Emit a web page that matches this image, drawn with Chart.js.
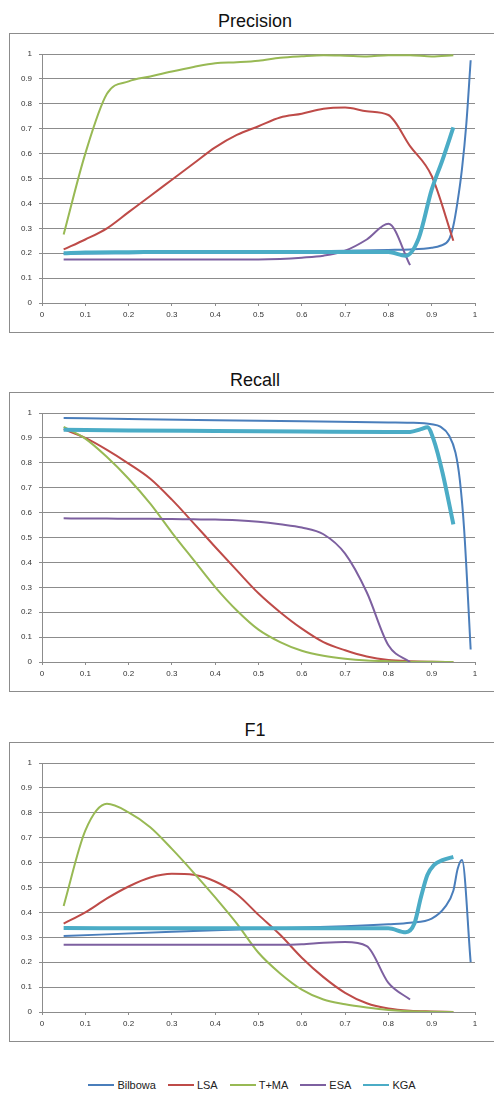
<!DOCTYPE html>
<html>
<head>
<meta charset="utf-8">
<script src="https://cdn.jsdelivr.net/npm/chart.js@4.4.1/dist/chart.umd.min.js"></script>
<style>
  body { margin: 0; width: 494px; height: 1093px; overflow: hidden; background: #fff; position: relative; font-family: "Liberation Sans", Arial, sans-serif; }
  .title { position: absolute; left: 0; width: 510px; text-align: center; font-size: 18px; line-height: 20px; color: #111; }
  .frame { position: absolute; left: 9px; width: 500px; height: 298px; border: 1px solid #8c8c8c; }
  canvas { position: absolute; left: 10px; }
  #legend { position: absolute; left: 0; top: 1079px; width: 504px; display: flex; justify-content: center; gap: 12px; font-size: 11px; line-height: 12px; color: #222; }
  #legend .item { display: flex; align-items: center; gap: 3px; }
  #legend .swatch { width: 26px; height: 2px; }
</style>
</head>
<body>
<div class="title" style="top:11px">Precision</div>
<div class="frame" style="top:33px"></div>
<canvas id="precisionChart" width="484" height="299" style="top:33px"></canvas>

<div class="title" style="top:370px">Recall</div>
<div class="frame" style="top:392px"></div>
<canvas id="recallChart" width="484" height="299" style="top:392px"></canvas>

<div class="title" style="top:720px">F1</div>
<div class="frame" style="top:742px"></div>
<canvas id="f1Chart" width="484" height="299" style="top:742px"></canvas>

<div id="legend"></div>

<script>
// series names and thresholds
const seriesNames = ["Bilbowa", "LSA", "T+MA", "ESA", "KGA"];
const thresholds = [0.05, 0.1, 0.15, 0.2, 0.25, 0.3, 0.35, 0.4, 0.45, 0.5, 0.55, 0.6, 0.65, 0.7, 0.75, 0.8, 0.85, 0.9, 0.95];
const esaX = [0.05, 0.1, 0.15, 0.2, 0.25, 0.3, 0.35, 0.4, 0.45, 0.5, 0.55, 0.6, 0.65, 0.7, 0.75, 0.8, 0.85];
const yTicks = [0, 0.1, 0.2, 0.3, 0.4, 0.5, 0.6, 0.7, 0.8, 0.9, 1];

// Precision
const bilbowaPrecisionX = [0.05, 0.1, 0.2, 0.3, 0.4, 0.5, 0.6, 0.7, 0.8, 0.85, 0.9, 0.92, 0.94, 0.95, 0.96, 0.97, 0.98, 0.99];
const bilbowaPrecision = [0.198, 0.199, 0.2, 0.201, 0.203, 0.205, 0.207, 0.21, 0.213, 0.215, 0.222, 0.23, 0.255, 0.31, 0.41, 0.54, 0.72, 0.975];
const lsaPrecision = [0.215, 0.255, 0.3, 0.365, 0.43, 0.495, 0.56, 0.625, 0.675, 0.71, 0.745, 0.76, 0.78, 0.785, 0.77, 0.755, 0.63, 0.51, 0.25];
const tmaPrecision = [0.275, 0.6, 0.84, 0.89, 0.91, 0.93, 0.948, 0.963, 0.967, 0.973, 0.985, 0.991, 0.995, 0.993, 0.99, 0.995, 0.995, 0.99, 0.995];
const esaPrecision = [0.175, 0.175, 0.175, 0.175, 0.175, 0.175, 0.175, 0.175, 0.175, 0.175, 0.177, 0.182, 0.19, 0.21, 0.255, 0.318, 0.152];
const kgaPrecisionX = [0.05, 0.1, 0.2, 0.3, 0.4, 0.5, 0.6, 0.7, 0.8, 0.84, 0.87, 0.9, 0.925, 0.95];
const kgaPrecision = [0.2, 0.203, 0.204, 0.205, 0.205, 0.205, 0.205, 0.205, 0.205, 0.19, 0.26, 0.455, 0.575, 0.705];

// Recall
const bilbowaRecallX = [0.05, 0.2, 0.4, 0.6, 0.8, 0.85, 0.9, 0.92, 0.94, 0.955, 0.965, 0.975, 0.99];
const bilbowaRecall = [0.98, 0.976, 0.971, 0.967, 0.962, 0.961, 0.955, 0.945, 0.91, 0.84, 0.73, 0.53, 0.05];
const lsaRecall = [0.935, 0.9, 0.852, 0.797, 0.736, 0.652, 0.558, 0.462, 0.368, 0.276, 0.2, 0.134, 0.08, 0.047, 0.022, 0.008, 0.003, 0.001, 0];
const tmaRecall = [0.944, 0.897, 0.823, 0.736, 0.636, 0.52, 0.41, 0.301, 0.207, 0.13, 0.08, 0.045, 0.025, 0.013, 0.006, 0.003, 0.001, 0.001, 0];
const esaRecall = [0.577, 0.576, 0.576, 0.575, 0.575, 0.574, 0.573, 0.572, 0.569, 0.563, 0.553, 0.54, 0.513, 0.435, 0.28, 0.067, 0];
const kgaRecallX = [0.05, 0.2, 0.4, 0.6, 0.8, 0.85, 0.875, 0.89, 0.905, 0.925, 0.95];
const kgaRecall = [0.933, 0.93, 0.928, 0.926, 0.924, 0.924, 0.935, 0.943, 0.89, 0.76, 0.553];

// F1
const bilbowaF1X = [0.05, 0.3, 0.5, 0.7, 0.8, 0.85, 0.9, 0.93, 0.95, 0.96, 0.97, 0.99];
const bilbowaF1 = [0.305, 0.322, 0.334, 0.344, 0.352, 0.358, 0.375, 0.42, 0.487, 0.575, 0.61, 0.2];
const lsaF1 = [0.355, 0.4, 0.456, 0.504, 0.54, 0.555, 0.551, 0.524, 0.473, 0.39, 0.31, 0.218, 0.14, 0.077, 0.035, 0.014, 0.005, 0.002, 0];
const tmaF1 = [0.426, 0.728, 0.836, 0.802, 0.742, 0.655, 0.56, 0.46, 0.355, 0.238, 0.155, 0.09, 0.05, 0.031, 0.018, 0.008, 0.003, 0.001, 0];
const esaF1 = [0.27, 0.27, 0.27, 0.27, 0.27, 0.27, 0.27, 0.27, 0.27, 0.27, 0.27, 0.272, 0.278, 0.281, 0.265, 0.117, 0.05];
const kgaF1X = [0.05, 0.3, 0.5, 0.8, 0.84, 0.86, 0.875, 0.89, 0.905, 0.925, 0.95];
const kgaF1 = [0.337, 0.336, 0.336, 0.336, 0.32, 0.355, 0.46, 0.55, 0.59, 0.61, 0.623];

const colors = ["#4a7ebb", "#be4b48", "#98b954", "#7d60a0", "#4bacc6"];
const widths = [2, 2, 2, 2, 4];

function pts(xs, ys) {
  return xs.map((x, i) => ({ x: x, y: ys[i] }));
}

function makeChart(id, series) {
  const datasets = series.map((s, i) => ({
    label: seriesNames[i],
    data: pts(s[0], s[1]),
    borderColor: colors[i],
    borderWidth: widths[i],
    pointRadius: 0,
    fill: false,
    cubicInterpolationMode: "monotone",
    order: series.length - i
  }));
  const tickFont = { family: "'Liberation Sans', Arial, sans-serif", size: 8 };
  new Chart(document.getElementById(id), {
    type: "line",
    data: { datasets: datasets },
    options: {
      responsive: false,
      animation: false,
      layout: { padding: { top: 21, right: 19, left: 0, bottom: 0 } },
      plugins: { legend: { display: false }, tooltip: { enabled: false } },
      scales: {
        x: {
          type: "linear", min: 0, max: 1,
          afterFit: (scale) => { scale.height = 29; },
          afterBuildTicks: (scale) => { scale.ticks = yTicks.map(v => ({ value: v })); },
          grid: { drawOnChartArea: false, tickLength: 3, color: "#8c8c8c" },
          border: { color: "#8c8c8c" },
          ticks: { font: tickFont, color: "#333", padding: 4, maxRotation: 0, autoSkip: false,
                   callback: v => String(Math.round(v * 10) / 10) }
        },
        y: {
          min: 0, max: 1,
          afterFit: (scale) => { scale.width = 32; },
          afterBuildTicks: (scale) => { scale.ticks = yTicks.map(v => ({ value: v })); },
          grid: { color: "#8c8c8c", tickLength: 3 },
          border: { color: "#8c8c8c" },
          ticks: { font: tickFont, color: "#333", padding: 7,
                   callback: v => String(Math.round(v * 10) / 10) }
        }
      }
    }
  });
}

makeChart("precisionChart", [
  [bilbowaPrecisionX, bilbowaPrecision],
  [thresholds, lsaPrecision],
  [thresholds, tmaPrecision],
  [esaX, esaPrecision],
  [kgaPrecisionX, kgaPrecision]
]);
makeChart("recallChart", [
  [bilbowaRecallX, bilbowaRecall],
  [thresholds, lsaRecall],
  [thresholds, tmaRecall],
  [esaX, esaRecall],
  [kgaRecallX, kgaRecall]
]);
makeChart("f1Chart", [
  [bilbowaF1X, bilbowaF1],
  [thresholds, lsaF1],
  [thresholds, tmaF1],
  [esaX, esaF1],
  [kgaF1X, kgaF1]
]);

// legend below the charts
const legend = document.getElementById("legend");
seriesNames.forEach((name, i) => {
  const item = document.createElement("div");
  item.className = "item";
  item.innerHTML = `<span class="swatch" style="background:${colors[i]}"></span><span>${name}</span>`;
  legend.appendChild(item);
});
</script>
</body>
</html>
